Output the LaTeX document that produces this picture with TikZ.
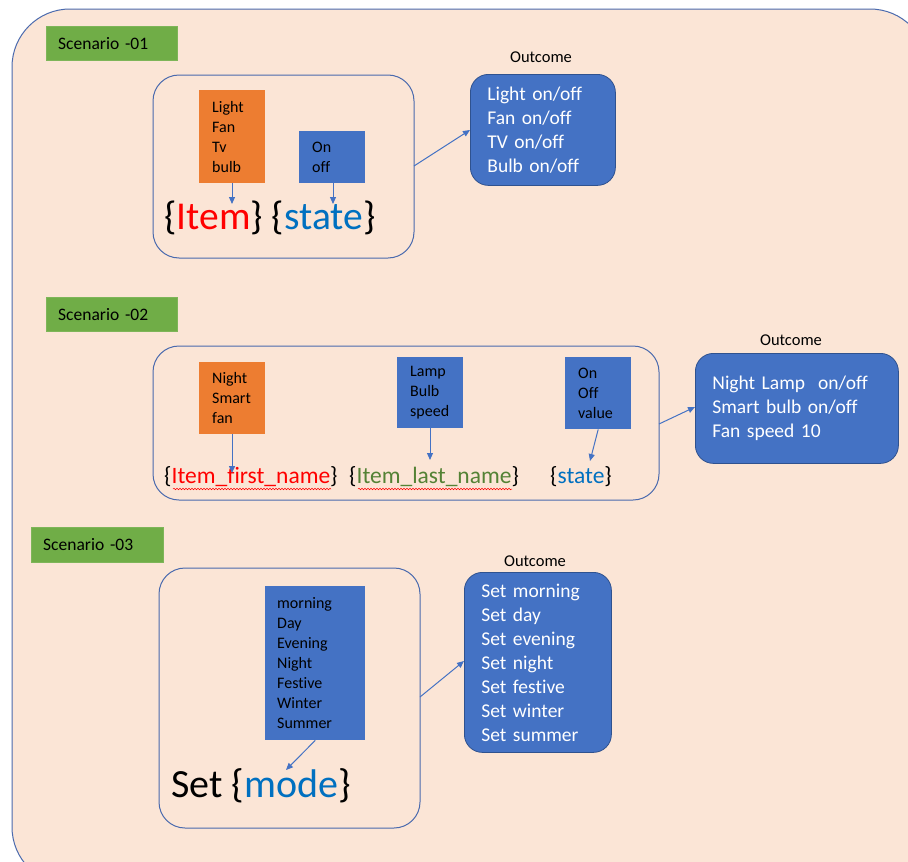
\documentclass[tikz,border=0pt]{standalone}
\usepackage{fontspec}
\setmainfont{Carlito}[Ligatures={NoCommon}]
\usetikzlibrary{arrows.meta,decorations.pathmorphing}
\definecolor{peach}{HTML}{FBE5D6}
\definecolor{edgeblue}{HTML}{4A6AAE}
\definecolor{fillblue}{HTML}{4472C4}
\definecolor{darkblue}{HTML}{2F528F}
\definecolor{grn}{HTML}{70AD47}
\definecolor{orng}{HTML}{ED7D31}
\definecolor{stblue}{HTML}{0070C0}
\definecolor{lastgreen}{HTML}{548235}
\definecolor{wordred}{HTML}{FF0000}
\tikzset{
  scen/.style={fill=grn, draw=grn!90!white, anchor=north west, inner sep=0pt, align=left,
    font=\fontsize{17.5}{20}\selectfont, text=black},
  frame/.style={draw=edgeblue, line width=1pt, rounded corners=26pt, fill=none},
  valbox/.style={anchor=north west, inner ysep=0pt, inner xsep=13pt, align=left,
    font=\fontsize{16}{20}\selectfont, text=black},
  outbox/.style={fill=fillblue, draw=darkblue, line width=0.8pt, rounded corners=18pt,
    anchor=north west, inner ysep=0pt, inner xsep=17pt, align=left,
    font=\fontsize{19.5}{24}\selectfont, text=white},
  outlbl/.style={font=\fontsize{16.5}{18}\selectfont, text=black},
  arr/.style={draw=fillblue, line width=1pt, -{Triangle[length=7pt,width=6pt]}},
  squig/.style={draw=wordred, line width=0.5pt, decorate,
    decoration={snake, amplitude=0.8pt, segment length=3pt}},
}
\begin{document}
\begin{tikzpicture}[x=1pt,y=-1pt]
\useasboundingbox (0,0) rectangle (908,862);
\fill[white] (0,0) rectangle (908,862);
\begin{scope}
\clip (0,0) rectangle (908,862);
\draw[draw=edgeblue, fill=peach, line width=1pt, rounded corners=58pt] (12,9) rectangle (928,885);
\end{scope}

% ---------------- Scenario 1 ----------------
\node[scen, minimum width=131pt, minimum height=34pt, text width=107pt, inner xsep=12pt] (s1) at (46,26) {Scenario -01};
\draw[frame] (153,75) rectangle (414,258);
\coordinate (f1r) at (414,166);
\node[valbox, fill=orng, text width=40pt, minimum height=93pt] (o1) at (199,90) {Light\\Fan\\Tv\\bulb};
\node[valbox, fill=fillblue, text width=40pt, minimum height=52pt] (b1) at (299,131) {On\\off};
\node[anchor=base west, inner sep=0pt, font=\fontsize{39.5}{44}\selectfont] (t1) at (164,229)
  {\{\textcolor{wordred}{Item}\} \{\textcolor{stblue}{state}\}};
\coordinate (a1) at (232,204);
\coordinate (a2) at (333,204);
\draw[arr] (o1.south -| a1) -- (a1);
\draw[arr] (b1.south -| a2) -- (a2);
\node[outlbl] (l1) at (541,57) {Outcome};
\node[outbox, text width=111pt, minimum height=111pt] (r1) at (470,74)
  {Light on/off\\Fan on/off\\TV on/off\\Bulb on/off};
\draw[arr] (f1r) -- (r1.west |- 0,130);

% ---------------- Scenario 2 ----------------
\node[scen, minimum width=131pt, minimum height=34pt, text width=107pt, inner xsep=12pt] (s2) at (46,297) {Scenario -02};
\draw[frame] (153,346) rectangle (659,500);
\coordinate (f2r) at (659,424);
\node[valbox, fill=orng, text width=40pt, minimum height=72pt] (o2) at (199,362) {Night\\Smart\\fan};
\node[valbox, fill=fillblue, text width=40pt, minimum height=71pt] (b2) at (397,357) {Lamp\\Bulb\\speed};
\node[valbox, fill=fillblue, text width=40pt, minimum height=72pt] (b3) at (565,357) {On\\Off\\value};
\node[anchor=base west, inner sep=0pt, font=\fontsize{23.5}{26}\selectfont] (t2a) at (164,483)
  {\{\textcolor{wordred}{Item\_first\_name}\}};
\node[anchor=base west, inner sep=0pt, font=\fontsize{23.5}{26}\selectfont] (t2b) at (349,483)
  {\{\textcolor{lastgreen}{Item\_last\_name}\}};
\node[anchor=base west, inner sep=0pt, font=\fontsize{23.5}{26}\selectfont] (t2c) at (550,483)
  {\{\textcolor{stblue}{state}\}};
\draw[squig] (173,489) -- (331,489);
\draw[squig] (358,489) -- (512,489);
\coordinate (a3) at (232,473);
\coordinate (a4) at (430,460);
\coordinate (a5) at (590,461);
\draw[arr] (o2.south -| a3) -- (a3);
\draw[arr] (b2.south -| a4) -- (a4);
\draw[arr] (b3.south) -- (a5);
\node[outlbl] (l2) at (791,340) {Outcome};
\node[outbox, text width=169pt, minimum height=110pt] (r2) at (695,353)
  {Night Lamp~ on/off\\Smart bulb on/off\\Fan speed 10};
\draw[arr] (f2r) -- (r2.west |- 0,407);

% ---------------- Scenario 3 ----------------
\node[scen, minimum width=132pt, minimum height=35pt, text width=108pt, inner xsep=12pt] (s3) at (31,527) {Scenario -03};
\draw[frame] (159,568) rectangle (420,828);
\coordinate (f3r) at (420,697);
\node[valbox, fill=fillblue, text width=76pt, minimum height=154pt, inner xsep=12pt] (b4) at (265,586)
  {morning\\Day\\Evening\\Night\\Festive\\Winter\\Summer};
\node[anchor=base west, inner sep=0pt, font=\fontsize{40}{44}\selectfont] (t3) at (171,797)
  {Set \{\textcolor{stblue}{mode}\}};
\coordinate (a6) at (286,770);
\draw[arr] (b4.south) -- (a6);
\node[outlbl] (l3) at (535,561) {Outcome};
\node[outbox, text width=113pt, minimum height=180pt] (r3) at (464,572)
  {Set morning\\Set day\\Set evening\\Set night\\Set festive\\Set winter\\Set summer};
\draw[arr] (f3r) -- (r3.west |- 0,661);
\end{tikzpicture}
\end{document}
